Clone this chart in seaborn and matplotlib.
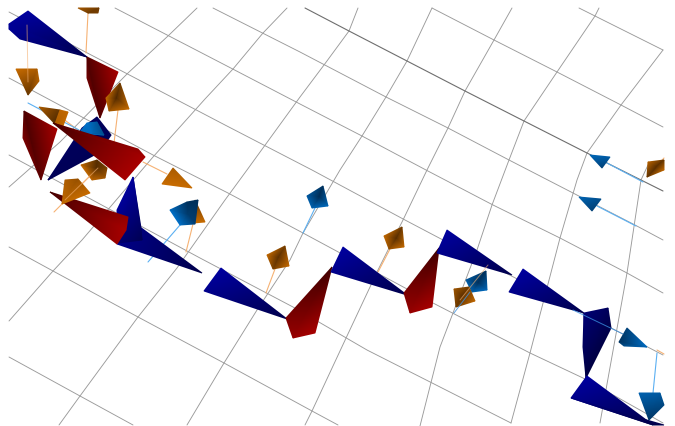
import numpy as np
import pandas as pd
import matplotlib
matplotlib.use("Agg")
import matplotlib.pyplot as plt
from matplotlib.colors import LinearSegmentedColormap
import seaborn as sns

# grid lines (x, y pairs)
grid_a = [
    [(9,12),(225,125),(312,170),(405,220),(500,270),(663,355)],
    [(9,78),(153,155),(228,193),(303,233),(433,303),(530,353),(583,378),(663,423)],
    [(9,155),(200,258),(293,307),(367,350),(440,387),(511,423)],
    [(9,247),(53,271),(138,317),(224,363),(312,411),(338,425)],
    [(9,357),(80,396),(133,425)],
    [(115,8),(225,65),(300,104),(362,136),(426,170),(493,205),(560,238),(627,273),(663,293)],
    [(213,8),(300,52),(386,97),(448,128),(509,160),(573,193),(635,225),(663,240)],
    [(432,8),(494,40),(557,72),(621,105),(663,127)],
    [(579,8),(595,16),(663,50)],
]
grid_dark = [
    [(305,8),(349,31),(407,61),(465,91),(524,121),(587,153),(641,180),(663,191)],
]
grid_b = [
    [(197,8),(168,36),(128,73),(60,142),(9,187)],
    [(287,8),(263,33),(233,69),(205,99),(153,157),(82,240),(53,271),(9,321)],
    [(358,8),(349,31),(324,65),(300,97),(247,170),(225,200),(177,268),(138,317),(80,396),(59,425)],
    [(432,8),(407,61),(386,97),(362,136),(340,170),(303,233),(290,260),(257,310),(224,363),(187,425)],
    [(512,8),(494,40),(465,91),(448,128),(427,170),(403,220),(378,270),(347,336),(312,411),(305,425)],
    [(599,8),(595,16),(557,72),(524,121),(509,160),(492,205),(477,250),(453,313),(440,347),(420,426)],
    [(663,50),(621,105),(587,153),(577,180),(560,238),(530,353),(511,423)],
    [(648,165),(641,180),(627,273),(600,423)],
]

# stems
stems_orange = [
    [(88,13),(86,53)], [(118,110),(114,143)], [(62,118),(78,130)], [(98,168),(54,212)],
    [(143,162),(167,174)], [(193,224),(186,252)], [(275,269),(266,293)],
    [(390,249),(378,272)], [(664,158),(647,177)], [(657,350),(664,354)],
]
stems_blue = [
    [(28,103),(79,130)], [(180,225),(148,262)], [(315,208),(303,233)],
    [(607,163),(643,182)], [(597,206),(636,226)], [(657,353),(653,393)],
]
stems_over_orange = [[(27,25),(28,82)], [(488,265),(460,300)], [(98,168),(65,200)]]
stems_over_blue = [[(573,310),(623,334)], [(470,292),(454,313)]]

# cones: fan centre first, then rim; each vertex is x, y, shade
navy_a = [(87,57,.1),(28,11,1),(9,24,.9),(9,29,.9),(20,39,.7)]
navy_b = [(48,180,.25),(82,128,.4),(97,117,.3),(111,135,.25),(100,152,.2)]
navy_c = [(133,177,1),(141,228,.3),(142,240,.2),(118,243,.5),(117,210,.9)]
navy_d = [(202,273,.1),(117,244,.75),(140,227,.65)]
navy_e = [(287,319,.1),(221,268,1),(204,291,.8)]
navy_f = [(407,295,.1),(343,247,1),(331,272,.8)]
navy_g = [(512,275,.1),(447,230,1),(437,253,.8)]
navy_h = [(584,313,.1),(523,269,1),(509,292,.8)]
navy_i = [(586,378,.0),(583,347,.3),(584,313,.55),(608,308,.3),(611,328,.1)]
navy_j = [(653,425,.1),(587,376,1),(571,398,.8),(664,425,.1)]

red_a = [(100,118,.2),(87,78,.5),(87,57,.2),(118,72,1)]
red_b = [(41,180,.3),(23,138,.6),(24,111,.15),(57,129,1)]
red_c = [(53,123,.05),(125,180,1),(145,157,1),(138,149,.8)]
red_d = [(50,192,.05),(117,244,.9),(126,230,1),(128,217,.8)]
red_e = [(332,267,.0),(286,318,.6),(293,338,.85),(315,333,1)]
red_f = [(439,248,.0),(404,293,.6),(410,313,.85),(432,307,1)]

orange_a = [(88,13,.3),(78,8,.75),(99,8,.3),(98,13,.35),(82,13,.8)]
orange_b = [(28,95,.2),(16,69,1),(37,69,.8),(39,81,.85),(28,95,.2)]
orange_c = [(116,98,.05),(120,83,.25),(129,109,1),(109,111,.7),(106,98,1),(120,83,.25)]
orange_d = [(55,124,.05),(39,107,.8),(60,110,.2)]
orange_e = [(68,112,.95),(60,110,.9),(55,124,.8),(63,126,.95)]
orange_f = [(96,168,.1),(97,160,.1),(107,168,.4),(105,178,.7),(92,180,.9),(81,165,1),(97,160,.1)]
orange_g = [(78,179,.6),(65,180,.8),(62,204,.95),(90,193,1),(78,179,.6)]
orange_h = [(192,188,1),(173,168,.75),(162,184,1)]
orange_i = [(193,223,1),(195,200,.2),(205,222,1)]
orange_j = [(278,257,.15),(285,246,.35),(289,266,1),(273,269,.35),(267,255,1),(285,246,.35)]
orange_k = [(396,238,.1),(402,227,.3),(404,247,1),(389,249,.6),(384,236,1),(402,227,.3)]
orange_l = [(462,296,.15),(454,289,.7),(469,287,.3),(475,301,1),(456,307,.3),(454,289,.7)]
orange_m = [(656,167,.1),(648,162,.9),(664,160,.2),(664,170,1),(647,177,.2),(648,162,.9)]

blue_a = [(92,134,.9),(87,123,1),(97,122,.6),(104,135,.5),(80,132,.9),(87,123,1)]
blue_b = [(187,214,.25),(187,202,.1),(198,200,.05),(195,224,.3),(180,225,1),(170,210,1),(187,202,.1)]
blue_c = [(319,197,.05),(307,196,.7),(323,186,.1),(328,206,.9),(312,208,.8),(307,196,.7)]
blue_d = [(478,283,.1),(466,280,.7),(486,271,.1),(487,290,.9),(472,292,.8),(466,280,.7)]
blue_e = [(602,168,.3),(590,155,.9),(610,157,.7)]
blue_f = [(592,211,.3),(579,197,.85),(601,199,.5)]
blue_g = [(647,347,1),(627,328,.35),(619,342,.1),(624,346,.5)]
blue_h = [(649,420,.15),(639,393,.8),(660,393,.7),(664,405,.4)]

draw_order = [
    ("navy", navy_b), ("blue", blue_a), ("orange", orange_b), ("orange", orange_a),
    ("navy", navy_a), ("red", red_a), ("orange", orange_c), ("orange", orange_d),
    ("orange", orange_e), ("red", red_b), ("red", red_c), ("orange", orange_f),
    ("orange", orange_h), ("navy", navy_d), ("navy", navy_c), ("red", red_d),
    ("orange", orange_g), ("orange", orange_i), ("blue", blue_b), ("blue", blue_c),
    ("orange", orange_j), ("orange", orange_k), ("blue", blue_d), ("orange", orange_l),
    ("navy", navy_e), ("red", red_e), ("navy", navy_f), ("red", red_f), ("navy", navy_g),
    ("navy", navy_h), ("navy", navy_i), ("navy", navy_j), ("blue", blue_e), ("blue", blue_f),
    ("blue", blue_g), ("blue", blue_h), ("orange", orange_m),
]

series_maps = {
    "navy": LinearSegmentedColormap.from_list("navy", ["#000040", "#0000a0"]),
    "red": LinearSegmentedColormap.from_list("red", ["#3c0000", "#a80000"]),
    "orange": LinearSegmentedColormap.from_list("orange", ["#4a2600", "#c86c00"]),
    "blue": LinearSegmentedColormap.from_list("blue", ["#002a50", "#0070c8"]),
}


def polylines(lines):
    rows = [(i, x, y) for i, line in enumerate(lines) for x, y in line]
    return pd.DataFrame(rows, columns=["line", "x", "y"])


def draw_lines(ax, lines, color, lw, zorder, alpha=1.0):
    sns.lineplot(data=polylines(lines), x="x", y="y", units="line", estimator=None,
                 sort=False, color=color, lw=lw, zorder=zorder, alpha=alpha,
                 legend=False, ax=ax)


sns.set_theme(style="white")
fig = plt.figure(figsize=(6.75, 4.26), dpi=100)
ax = fig.add_axes([0, 0, 1, 1])

draw_lines(ax, grid_a + grid_b, "#9a9a9a", 0.65, 1)
draw_lines(ax, grid_dark, "#6e6e6e", 0.8, 1)
draw_lines(ax, stems_orange, "#f6b274", 0.8, 2)
draw_lines(ax, stems_blue, "#5cb0f2", 0.8, 2)

z = 3.0
for series, cone in draw_order:
    v = np.array(cone, dtype=float)
    tris = [[0, i, i + 1] for i in range(1, len(v) - 1)]
    ax.tripcolor(v[:, 0], v[:, 1], tris, v[:, 2], shading="gouraud",
                 cmap=series_maps[series], vmin=0, vmax=1, zorder=z)
    z += 0.01

draw_lines(ax, stems_over_orange, "#f6b274", 0.7, 10, alpha=0.6)
draw_lines(ax, stems_over_blue, "#3a90e0", 0.7, 10, alpha=0.8)

ax.set_xlim(0, 675)
ax.set_ylim(426, 0)
ax.set_axis_off()
fig.savefig("out.png", dpi=100, facecolor="white")
